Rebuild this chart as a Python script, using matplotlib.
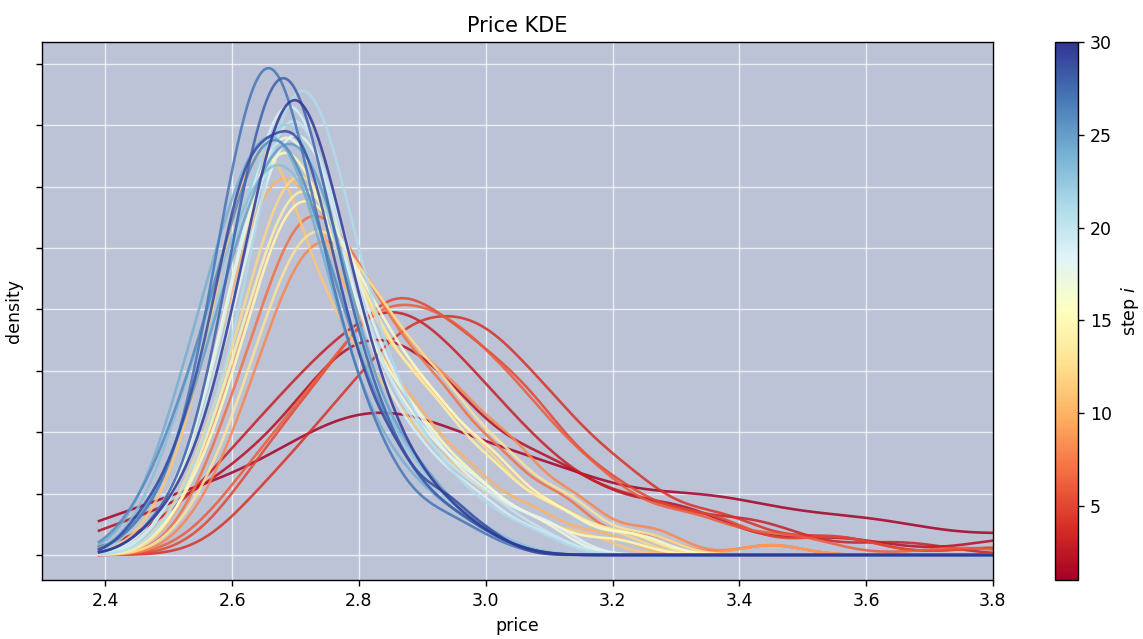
import numpy as np
import matplotlib
matplotlib.use("Agg")
import matplotlib.pyplot as plt
from matplotlib import cm, colors
from matplotlib.ticker import MultipleLocator, NullFormatter

# ---- data: per step, weighted price levels and KDE bandwidth ----
steps = list(range(1, 31))

bandwidths = [0.12, 0.09, 0.08, 0.07, 0.07, 0.07,
              0.05, 0.05, 0.05, 0.05, 0.05, 0.05,
              0.05, 0.05, 0.05, 0.05, 0.05, 0.05,
              0.05, 0.05, 0.05, 0.05, 0.05, 0.05,
              0.05, 0.05, 0.05, 0.05, 0.04, 0.05]

price_levels = [
    [2.40, 2.55, 2.75, 2.90, 3.10, 3.35, 3.60, 3.90],
    [2.45, 2.62, 2.78, 2.92, 3.10, 3.30, 3.55, 3.85],
    [2.50, 2.62, 2.74, 2.86, 2.98, 3.10, 3.25, 3.42, 3.65],
    [2.66, 2.77, 2.88, 2.99, 3.10, 3.22, 3.37, 3.55, 3.80],
    [2.64, 2.74, 2.85, 2.96, 3.07, 3.20, 3.35, 3.55, 3.80],
    [2.62, 2.72, 2.83, 2.94, 3.05, 3.17, 3.32, 3.48, 3.75],
    [2.55, 2.61, 2.67, 2.72, 2.78, 2.85, 2.93, 3.02, 3.12, 3.25, 3.45],
    [2.56, 2.63, 2.69, 2.74, 2.80, 2.87, 2.95, 3.04, 3.14, 3.26, 3.45],
    [2.54, 2.60, 2.66, 2.71, 2.77, 2.84, 2.92, 3.01, 3.11, 3.22, 3.45],
    [2.52, 2.58, 2.63, 2.68, 2.73, 2.80, 2.88, 2.97, 3.07, 3.18],
    [2.50, 2.56, 2.61, 2.65, 2.70, 2.77, 2.85, 2.94, 3.04, 3.15],
    [2.53, 2.59, 2.65, 2.70, 2.76, 2.83, 2.91, 3.00, 3.10, 3.20],
    [2.55, 2.62, 2.68, 2.73, 2.79, 2.86, 2.94, 3.03, 3.13, 3.25],
    [2.54, 2.60, 2.66, 2.71, 2.77, 2.84, 2.92, 3.01, 3.11, 3.22],
    [2.52, 2.58, 2.63, 2.68, 2.74, 2.81, 2.89, 2.98, 3.08, 3.20],
    [2.53, 2.60, 2.66, 2.71, 2.77, 2.84, 2.92, 3.01, 3.11, 3.23],
    [2.52, 2.58, 2.63, 2.68, 2.74, 2.81, 2.89, 2.98, 3.08],
    [2.52, 2.58, 2.64, 2.69, 2.75, 2.82, 2.90, 2.99, 3.09],
    [2.51, 2.57, 2.63, 2.68, 2.74, 2.81, 2.89, 2.98, 3.08],
    [2.52, 2.58, 2.64, 2.69, 2.75, 2.82, 2.90, 2.99, 3.08],
    [2.53, 2.59, 2.65, 2.70, 2.76, 2.83, 2.90, 2.98, 3.07],
    [2.49, 2.55, 2.61, 2.67, 2.73, 2.80, 2.87, 2.95, 3.02],
    [2.48, 2.54, 2.60, 2.66, 2.72, 2.79, 2.87, 2.95, 3.02],
    [2.47, 2.53, 2.59, 2.65, 2.71, 2.78, 2.86, 2.94, 3.01],
    [2.48, 2.55, 2.61, 2.67, 2.73, 2.79, 2.87, 2.94, 3.01],
    [2.46, 2.53, 2.60, 2.66, 2.72, 2.79, 2.86, 2.94, 3.01],
    [2.48, 2.56, 2.61, 2.66, 2.71, 2.77, 2.84, 2.93, 3.00],
    [2.50, 2.58, 2.63, 2.68, 2.73, 2.79, 2.86, 2.94, 3.01],
    [2.47, 2.54, 2.60, 2.64, 2.68, 2.72, 2.78, 2.85, 2.93, 3.00],
    [2.50, 2.58, 2.64, 2.69, 2.74, 2.80, 2.87, 2.94, 3.01],
]

level_weights = [
    [0.04, 0.10, 0.20, 0.20, 0.16, 0.12, 0.075, 0.05],
    [0.05, 0.12, 0.28, 0.24, 0.14, 0.08, 0.03, 0.03],
    [0.03, 0.12, 0.20, 0.27, 0.18, 0.10, 0.07, 0.05, 0.02],
    [0.07, 0.14, 0.22, 0.22, 0.15, 0.09, 0.05, 0.025, 0.01],
    [0.08, 0.15, 0.26, 0.20, 0.16, 0.08, 0.05, 0.025, 0.01],
    [0.07, 0.14, 0.24, 0.22, 0.16, 0.09, 0.05, 0.025, 0.01],
    [0.03, 0.09, 0.13, 0.17, 0.17, 0.14, 0.12, 0.08, 0.05, 0.02, 0.01],
    [0.03, 0.09, 0.13, 0.15, 0.16, 0.13, 0.12, 0.09, 0.05, 0.025, 0.01],
    [0.03, 0.09, 0.14, 0.18, 0.17, 0.13, 0.11, 0.08, 0.04, 0.02, 0.01],
    [0.03, 0.09, 0.15, 0.17, 0.17, 0.14, 0.11, 0.07, 0.04, 0.02],
    [0.03, 0.08, 0.15, 0.18, 0.16, 0.14, 0.11, 0.07, 0.04, 0.02],
    [0.03, 0.09, 0.14, 0.20, 0.18, 0.13, 0.12, 0.08, 0.04, 0.02],
    [0.03, 0.09, 0.13, 0.16, 0.16, 0.14, 0.12, 0.08, 0.05, 0.02],
    [0.03, 0.10, 0.14, 0.19, 0.17, 0.13, 0.11, 0.07, 0.04, 0.02],
    [0.03, 0.09, 0.15, 0.21, 0.19, 0.13, 0.10, 0.06, 0.03, 0.015],
    [0.03, 0.09, 0.14, 0.18, 0.17, 0.14, 0.11, 0.08, 0.04, 0.02],
    [0.03, 0.09, 0.15, 0.22, 0.20, 0.13, 0.09, 0.06, 0.03],
    [0.03, 0.09, 0.15, 0.22, 0.21, 0.13, 0.09, 0.05, 0.03],
    [0.03, 0.08, 0.16, 0.24, 0.22, 0.12, 0.08, 0.05, 0.02],
    [0.03, 0.09, 0.16, 0.23, 0.21, 0.12, 0.08, 0.05, 0.02],
    [0.03, 0.08, 0.16, 0.25, 0.23, 0.12, 0.07, 0.04, 0.02],
    [0.03, 0.09, 0.16, 0.24, 0.22, 0.12, 0.06, 0.03, 0.01],
    [0.03, 0.10, 0.16, 0.21, 0.20, 0.13, 0.07, 0.03, 0.01],
    [0.03, 0.10, 0.17, 0.23, 0.21, 0.12, 0.06, 0.03, 0.01],
    [0.03, 0.09, 0.16, 0.22, 0.21, 0.13, 0.07, 0.03, 0.01],
    [0.03, 0.10, 0.18, 0.23, 0.20, 0.12, 0.06, 0.03, 0.01],
    [0.03, 0.10, 0.18, 0.26, 0.17, 0.12, 0.06, 0.03, 0.01],
    [0.03, 0.10, 0.17, 0.25, 0.18, 0.12, 0.06, 0.03, 0.01],
    [0.03, 0.08, 0.15, 0.14, 0.12, 0.19, 0.12, 0.07, 0.04, 0.015],
    [0.03, 0.09, 0.16, 0.23, 0.19, 0.13, 0.06, 0.03, 0.01],
]

x_ticks = [2.4, 2.6, 2.8, 3.0, 3.2, 3.4, 3.6, 3.8]
cbar_ticks = [5, 10, 15, 20, 25, 30]

# ---- figure ----
fig = plt.figure(figsize=(9.144, 5.112), dpi=125)
ax = fig.add_axes([0.0367, 0.0923, 0.832, 0.842])
cax = fig.add_axes([0.923, 0.0923, 0.0201, 0.842])

ax.set_facecolor("#bcc3d6")
ax.grid(True, color="white", alpha=0.7, linewidth=0.8)
ax.set_axisbelow(True)

cmap = plt.get_cmap("RdYlBu")
norm = colors.Normalize(vmin=1, vmax=30)
grid = np.linspace(2.39, 3.85, 900)

for s, h, lv, wt in zip(steps, bandwidths, price_levels, level_weights):
    c = np.asarray(lv)[:, None]
    w = np.asarray(wt)[:, None]
    dens = (w * np.exp(-0.5 * ((grid - c) / h) ** 2) / (h * np.sqrt(2 * np.pi))).sum(axis=0)
    ax.plot(grid, dens, color=cmap(norm(s)), lw=1.5, alpha=0.85)

ax.set_xlim(2.3, 3.8)
ax.set_ylim(-0.204, 4.178)
ax.set_xticks(x_ticks)
ax.yaxis.set_major_locator(MultipleLocator(0.5))
ax.yaxis.set_major_formatter(NullFormatter())
ax.set_title("Price KDE", fontsize=12)
ax.set_xlabel("price")
ax.set_ylabel("density")

sm = cm.ScalarMappable(norm=norm, cmap=cmap)
cb = fig.colorbar(sm, cax=cax, ticks=cbar_ticks)
cb.set_label("step $i$")

fig.savefig("out.png", dpi=125)
